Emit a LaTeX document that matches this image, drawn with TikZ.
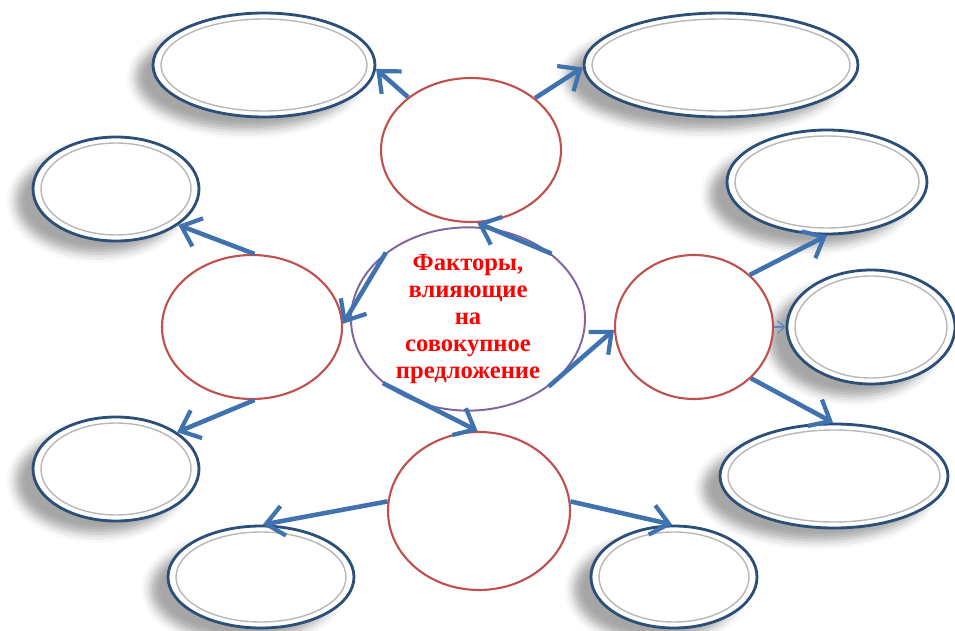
\documentclass[tikz,border=0pt]{standalone}
\usepackage{fontspec}
\setmainfont{Liberation Serif}
\usetikzlibrary{arrows.meta,calc,shapes.geometric,shadows.blur}
\definecolor{rim}{HTML}{2B4F78}
\definecolor{arrowblue}{HTML}{3F72AF}
\definecolor{circred}{HTML}{C0504D}
\definecolor{hubviolet}{HTML}{8064A2}
\definecolor{titlered}{HTML}{FF0000}
\tikzset{hub/.style={ellipse,draw=hubviolet,line width=1.1pt,fill=white,inner sep=0pt,
  font=\fontsize{14}{15.4}\selectfont\bfseries,text=titlered,align=center},
factor/.style={ellipse,draw=circred,line width=1.2pt,fill=white,inner sep=0pt},
leaf/.style={ellipse,draw=rim,line width=1.6pt,fill=white,inner sep=0pt,
  blur shadow={shadow xshift=-.35cm,shadow yshift=-.25cm,shadow opacity=35,shadow blur radius=.18cm},
  path picture={\draw[black!28,line width=.8pt] let \p1=($(path picture bounding box.north east)-(path picture bounding box.center)$)
    in (path picture bounding box.center) ellipse [x radius=\x1-.16cm,y radius=\y1-.12cm];}},
arr/.style={-{Straight Barb[length=3.5mm,width=6mm,line width=2.4pt]},line width=2.6pt,arrowblue},
thinarr/.style={-{Straight Barb[length=1.5mm,width=2.5mm]},line width=.6pt,arrowblue!85}}
\begin{document}
\begin{tikzpicture}
\useasboundingbox (0,0) rectangle (19.1,-12.62);
\node[leaf,minimum width=4.44cm,minimum height=2.08cm] (tl) at (5.28,-1.3) {};
\node[leaf,minimum width=5.48cm,minimum height=2.08cm] (tr) at (14.42,-1.3) {};
\node[leaf,minimum width=3.32cm,minimum height=2.08cm] (lu) at (2.32,-3.78) {};
\node[leaf,minimum width=3.32cm,minimum height=2.08cm] (ll) at (2.32,-9.38) {};
\node[leaf,minimum width=4cm,minimum height=2.08cm] (ru) at (16.54,-3.64) {};
\node[leaf,minimum width=3.36cm,minimum height=2.28cm] (rm) at (17.42,-6.54) {};
\node[leaf,minimum width=4.56cm,minimum height=2.08cm] (rl) at (16.68,-9.52) {};
\node[leaf,minimum width=3.72cm,minimum height=2.04cm] (bl) at (5.22,-11.54) {};
\node[leaf,minimum width=3.32cm,minimum height=2.04cm] (br) at (13.48,-11.54) {};
\node[factor,minimum width=3.6cm,minimum height=2.88cm] (top) at (9.42,-3.0) {};
\node[factor,minimum width=3.6cm,minimum height=2.88cm] (left) at (5.04,-6.54) {};
\node[factor,minimum width=3.16cm,minimum height=2.88cm] (right) at (13.88,-6.54) {};
\node[factor,minimum width=3.64cm,minimum height=3.16cm] (bottom) at (9.58,-10.22) {};
\node[hub,minimum width=4.68cm,minimum height=3.64cm] (hub) at (9.36,-6.38) {Факторы,\\влияющие\\на\\совокупное\\предложение};
\draw[arr] (hub.38) -- (top.-85);
\draw[arr] (hub.141) -- (left.2);
\draw[arr] (hub.-40) -- (right.182);
\draw[arr] (hub.-143) -- (bottom.91);
\draw[arr] (top.140) -- (tl.-2);
\draw[arr] (top.39) -- (tr.181);
\draw[arr] (left.88) -- (lu.-30);
\draw[arr] (left.-88) -- (ll.31);
\draw[arr] (right.43) -- (ru.-90);
\draw[thinarr] (right.east) -- (rm.west);
\draw[arr] (right.-42) -- (rl.91);
\draw[arr] (bottom.174) -- (bl.88);
\draw[arr] (bottom.6) -- (br.92);
\end{tikzpicture}
\end{document}
